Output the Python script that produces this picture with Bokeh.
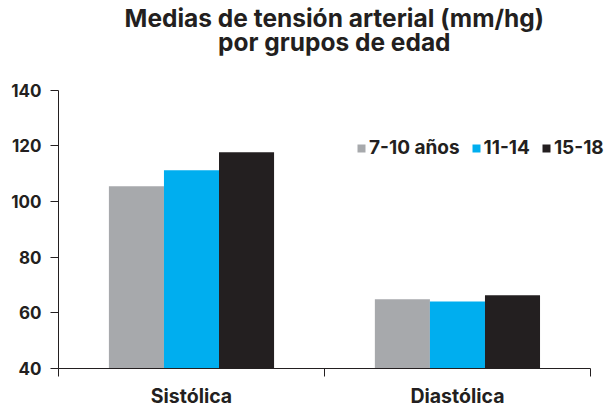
from bokeh.plotting import figure
from bokeh.models import Range1d, FixedTicker, Legend, LegendItem, ColumnDataSource, Label
from bokeh.embed import file_html
from bokeh.resources import INLINE

groups = ["Sistólica", "Diastólica"]
series = ["7-10 años", "11-14", "15-18"]
v_7_10 = [105.5, 64.9]
v_11_14 = [111.3, 64.1]
v_15_18 = [117.7, 66.3]
colors = ["#A7A9AC", "#00AEEF", "#231F20"]
y_ticks = [40, 60, 80, 100, 120, 140]
title_lines = ["Medias de tensión arterial (mm/hg)", "por grupos de edad"]

FONT = "Inter"
TXT = "#231F20"

# The frame extends past the axes (right for the legend, top for the title);
# the axes themselves are bounded to the data extent.
p = figure(width=612, height=410, output_backend="svg", toolbar_location=None,
           title=None,
           x_range=Range1d(0, 2.083), y_range=Range1d(40, 172.3),
           min_border_left=58, min_border_right=0, min_border_top=0, min_border_bottom=42)
p.outline_line_color = None
p.grid.visible = False
p.background_fill_color = "white"
p.border_fill_color = "white"

bw = 0.207
offsets = [-bw, 0.0, bw]
renderers = []
for vals, off, col in zip([v_7_10, v_11_14, v_15_18], offsets, colors):
    src = ColumnDataSource(dict(x=[i + 0.5 + off for i in range(len(groups))], top=vals))
    r = p.vbar(x="x", top="top", bottom=40, width=bw, source=src,
               fill_color=col, line_color=None)
    renderers.append(r)

# title: two centred lines
for txt, ty in zip(title_lines, [166.0, 157.4]):
    p.add_layout(Label(x=1.037, y=ty, text=txt, text_align="center",
                       text_baseline="alphabetic", text_font=FONT,
                       text_font_size="24.5px", text_font_style="bold",
                       text_color=TXT))

# y axis
ya = p.yaxis[0]
ya.bounds = (40, 140)
ya.ticker = FixedTicker(ticks=y_ticks)
ya.axis_line_color = TXT
ya.major_tick_line_color = TXT
ya.major_tick_out = 8
ya.major_tick_in = 0
ya.minor_tick_line_color = None
ya.major_label_text_font = FONT
ya.major_label_text_font_size = "17px"
ya.major_label_text_font_style = "bold"
ya.major_label_text_color = TXT
ya.major_label_standoff = 9

# x axis
xa = p.xaxis[0]
xa.bounds = (0, len(groups))
xa.ticker = FixedTicker(ticks=[i + 0.5 for i in range(len(groups))],
                        minor_ticks=list(range(len(groups) + 1)))
xa.major_label_overrides = {i + 0.5: g for i, g in enumerate(groups)}
xa.axis_line_color = TXT
xa.major_tick_line_color = None
xa.major_tick_out = 0
xa.major_tick_in = 0
xa.minor_tick_line_color = TXT
xa.minor_tick_out = 8
xa.minor_tick_in = 0
xa.major_label_text_font = FONT
xa.major_label_text_font_size = "19.5px"
xa.major_label_text_font_style = "bold"
xa.major_label_text_color = TXT
xa.major_label_standoff = 7

legend = Legend(items=[LegendItem(label=s, renderers=[r]) for s, r in zip(series, renderers)],
                orientation="horizontal", location=(298, 209),
                border_line_color=None, background_fill_alpha=0,
                label_text_font=FONT, label_text_font_size="19px",
                label_text_font_style="bold", label_text_color=TXT,
                glyph_width=10, glyph_height=10, label_standoff=3, spacing=11,
                padding=0, margin=0, label_height=19)
p.add_layout(legend)

open("out.html", "w").write(file_html(p, INLINE))
